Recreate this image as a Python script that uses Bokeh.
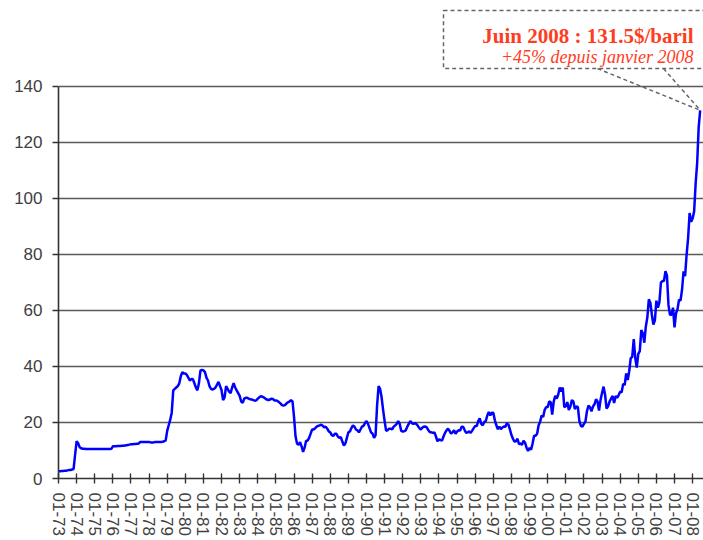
from bokeh.plotting import figure
from bokeh.models import FixedTicker
from bokeh.embed import file_html
from bokeh.resources import INLINE
from bokeh.core.properties import value

# ---------------- data (monthly oil price, $/barrel) ----------------
start_year = 1973

prices_1970s = [
    2.6, 2.6, 2.7, 2.7, 2.8, 2.8, 2.9, 3.0, 3.0, 3.2, 3.4, 8.5,          # 1973
    13.3, 12.6, 11.2, 10.8, 10.6, 10.6, 10.5, 10.5, 10.5, 10.5, 10.5, 10.5,  # 1974
    10.5, 10.5, 10.5, 10.5, 10.5, 10.5, 10.5, 10.5, 10.5, 10.5, 10.5, 10.6,  # 1975
    11.5, 11.5, 11.5, 11.6, 11.6, 11.6, 11.7, 11.7, 11.8, 11.9, 12.0, 12.1,  # 1976
    12.2, 12.2, 12.3, 12.3, 12.4, 12.4, 13.0, 13.0, 13.0, 13.0, 13.0, 13.0,  # 1977
    13.0, 12.9, 12.9, 12.9, 13.0, 13.0, 13.0, 13.0, 13.0, 13.1, 13.3, 13.6,  # 1978
    17.0, 19.0, 21.0, 23.5, 31.5, 32.0, 32.5, 33.0, 34.0, 36.5, 38.0, 37.5,  # 1979
]
prices_1980s = [
    37.5, 37.0, 36.0, 35.0, 35.5, 35.5, 34.0, 32.5, 31.5, 34.0, 38.5, 38.8,  # 1980
    38.6, 38.0, 36.0, 35.0, 33.0, 32.0, 31.8, 32.0, 32.5, 33.5, 34.5, 33.0,  # 1981
    31.5, 28.0, 29.0, 33.0, 32.0, 31.0, 30.5, 32.5, 34.0, 32.5, 31.5, 30.5,  # 1982
    29.5, 27.5, 27.0, 28.5, 28.8, 28.8, 28.5, 28.3, 28.2, 28.0, 27.8, 27.9,  # 1983
    28.5, 29.0, 29.4, 29.2, 29.0, 28.5, 28.2, 28.0, 28.2, 28.5, 28.4, 27.9,  # 1984
    27.9, 27.7, 27.3, 26.8, 26.2, 26.0, 26.2, 26.8, 27.2, 27.5, 28.0, 27.5,  # 1985
    22.0, 15.0, 12.5, 12.0, 13.0, 11.5, 9.5, 11.0, 13.5, 13.5, 14.5, 16.0,   # 1986
    17.5, 17.5, 18.0, 18.5, 18.8, 19.0, 19.2, 18.8, 18.3, 18.5, 17.8, 16.8,  # 1987
    16.5, 15.5, 15.2, 16.0, 16.0, 15.0, 14.5, 14.8, 13.2, 11.8, 12.5, 14.5,  # 1988
    16.5, 16.8, 18.0, 19.0, 18.5, 17.5, 17.2, 16.5, 17.5, 18.5, 18.8, 19.8,  # 1989
]
prices_1990s = [
    20.5, 19.5, 18.0, 16.5, 16.0, 14.5, 15.5, 26.0, 33.0, 32.0, 29.0, 24.5,  # 1990
    20.5, 17.0, 17.3, 17.8, 17.8, 17.5, 18.5, 19.0, 19.5, 20.5, 19.5, 17.0,  # 1991
    16.8, 16.9, 17.2, 18.5, 19.5, 20.5, 19.8, 19.5, 19.8, 19.5, 18.8, 18.0,  # 1992
    17.5, 18.2, 18.5, 18.6, 18.2, 17.2, 16.5, 16.5, 16.3, 16.5, 15.0, 13.3,  # 1993
    14.0, 13.7, 13.5, 15.0, 16.3, 17.2, 17.8, 17.0, 16.0, 16.5, 17.2, 16.0,  # 1994
    16.8, 17.2, 17.1, 18.5, 18.5, 17.3, 16.3, 16.5, 16.8, 16.3, 17.1, 18.0,  # 1995
    18.8, 18.7, 20.5, 21.5, 19.5, 19.0, 20.2, 20.5, 22.5, 23.8, 22.5, 23.5,  # 1996
    23.5, 20.8, 19.0, 17.6, 18.5, 17.6, 18.2, 18.6, 18.5, 19.8, 19.2, 17.5,  # 1997
    15.5, 14.2, 13.2, 13.3, 14.2, 12.3, 12.5, 12.0, 13.5, 12.8, 11.0, 9.8,   # 1998
    11.0, 10.3, 12.5, 15.3, 15.3, 16.0, 19.0, 20.3, 22.5, 22.0, 24.5, 25.5,  # 1999
]
prices_2000s = [
    25.5, 27.5, 27.3, 22.8, 27.5, 29.5, 28.5, 30.0, 32.5, 31.0, 32.5, 25.5,  # 2000
    25.8, 27.3, 24.5, 25.6, 28.0, 27.5, 24.8, 25.8, 25.5, 20.5, 18.8, 18.5,  # 2001
    19.5, 20.3, 24.0, 26.0, 25.5, 24.0, 25.7, 26.5, 28.3, 27.5, 24.3, 28.0,  # 2002
    30.5, 32.8, 30.0, 25.0, 25.8, 27.5, 28.5, 29.5, 27.0, 29.5, 28.8, 29.8,  # 2003
    31.0, 30.8, 33.8, 33.4, 37.5, 35.2, 38.3, 43.0, 43.4, 49.8, 43.1, 39.6,  # 2004
    44.5, 45.5, 53.0, 51.9, 48.5, 54.3, 57.5, 64.0, 62.8, 58.5, 55.0, 56.5,  # 2005
    63.5, 61.0, 63.0, 70.0, 70.5, 70.5, 74.0, 72.5, 62.0, 58.5, 58.5, 61.0,  # 2006
    54.0, 59.0, 60.5, 63.9, 63.5, 67.5, 74.0, 72.3, 79.9, 85.8, 94.8, 91.7,  # 2007
    92.9, 95.4, 105.4, 112.6, 125.4, 131.5,                                  # 2008
]

prices = prices_1970s + prices_1980s + prices_1990s + prices_2000s
dates = [start_year + i / 12 for i in range(len(prices))]

tick_years = list(range(1973, 2009))
tick_labels = ["01-%02d" % (y % 100) for y in tick_years]
y_ticks = [0, 20, 40, 60, 80, 100, 120, 140]

note_title = "Juin 2008 : 131.5$/baril"
note_sub = "+45% depuis janvier 2008"
peak_date = dates[-1]
peak_price = prices[-1]

# ---------------- figure ----------------
p = figure(width=703, height=540, x_range=(1973, 2008.6), y_range=(0, 170.71),
           output_backend="svg", toolbar_location=None,
           min_border_left=58, min_border_right=0, min_border_top=0,
           min_border_bottom=62)
p.outline_line_color = None
p.background_fill_color = "white"
p.border_fill_color = "white"

p.xgrid.visible = False
p.ygrid.ticker = FixedTicker(ticks=y_ticks)
p.ygrid.grid_line_color = "#5a5a5a"
p.ygrid.grid_line_width = 1.6

# y axis
p.yaxis.ticker = FixedTicker(ticks=y_ticks)
p.yaxis.bounds = (0, 140)
p.yaxis.axis_line_color = "#333333"
p.yaxis.axis_line_width = 1.6
p.yaxis.major_tick_line_color = "#333333"
p.yaxis.major_tick_line_width = 1.4
p.yaxis.major_tick_out = 6
p.yaxis.major_tick_in = 0
p.yaxis.minor_tick_line_color = None
p.yaxis.major_label_standoff = 10
p.yaxis.major_label_text_font = "Liberation Sans"
p.yaxis.major_label_text_font_size = "17px"
p.yaxis.major_label_text_color = "#404040"

# x axis
p.xaxis.ticker = FixedTicker(ticks=tick_years)
p.xaxis.major_label_overrides = {y: lab for y, lab in zip(tick_years, tick_labels)}
p.xaxis.major_label_orientation = "vertical"
p.xaxis.axis_line_color = "#333333"
p.xaxis.axis_line_width = 1.6
p.xaxis.major_tick_line_color = "#333333"
p.xaxis.major_tick_line_width = 1.4
p.xaxis.major_tick_out = 5
p.xaxis.major_tick_in = 5
p.xaxis.minor_tick_line_color = None
p.xaxis.major_label_standoff = 9
p.xaxis.major_label_text_font = "Liberation Sans"
p.xaxis.major_label_text_font_size = "17px"
p.xaxis.major_label_text_color = "#404040"

# price line
p.line(dates, prices, line_color="#0000ff", line_width=2.5)

# annotation box with pointer
box_left, box_right, box_top, box_bottom = 1994.25, 2010.0, 167.1, 146.4
p.quad(left=[box_left], right=[box_right], top=[box_top], bottom=[box_bottom],
       fill_color=None, line_color="#666666", line_width=1.5, line_dash="4 3")
p.segment(x0=[2002.75, 2006.39], y0=[box_bottom, box_bottom],
          x1=[peak_date, peak_date], y1=[peak_price, peak_price],
          line_color="#666666", line_width=1.5, line_dash="4 3")

p.text(x=[2008.05], y=[157.9], text=[note_title], text_align="right",
       text_baseline="alphabetic", text_font=value("Liberation Serif"),
       text_font_style="bold", text_font_size="21px", text_color="#ff3c1e")
p.text(x=[2008.05], y=[150.4], text=[note_sub], text_align="right",
       text_baseline="alphabetic", text_font=value("Liberation Serif"),
       text_font_style="italic", text_font_size="18px", text_color="#ff3c1e")

open("out.html", "w").write(file_html(p, INLINE))
